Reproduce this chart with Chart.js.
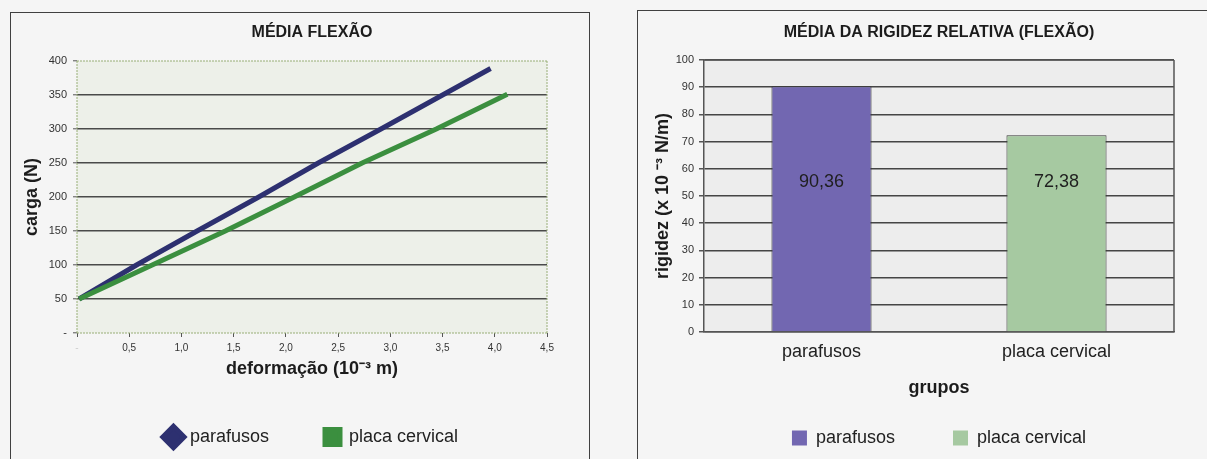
<!DOCTYPE html>
<html>
<head>
<meta charset="utf-8">
<script src="https://cdn.jsdelivr.net/npm/chart.js@4.4.1/dist/chart.umd.min.js"></script>
<style>
  html, body { margin: 0; padding: 0; background: #f5f5f5; }
  body { width: 1207px; height: 459px; position: relative; overflow: hidden; }
  .frame { position: absolute; border: 1.5px solid #404040; box-sizing: border-box; }
  #frameFlexao { left: 10px; top: 12px; width: 580px; height: 470px; }
  #frameRigidez { left: 637px; top: 10px; width: 600px; height: 470px; }
  .wrap { position: absolute; top: 0; height: 459px; }
  #wrapFlexao { left: 0; width: 600px; }
  #wrapRigidez { left: 600px; width: 607px; }
  canvas { display: block; }
</style>
</head>
<body>
<div class="frame" id="frameFlexao"></div>
<div class="frame" id="frameRigidez"></div>
<div class="wrap" id="wrapFlexao"><canvas id="chartFlexao" width="600" height="459"></canvas></div>
<div class="wrap" id="wrapRigidez"><canvas id="chartRigidez" width="607" height="459"></canvas></div>
<script>
// Load–deformation curves (deformação in 10^-3 m, carga in N)
const parafusosX = [0.02, 0.57, 1.15, 1.74, 2.31, 2.91, 3.50, 3.96];
const parafusosY = [50, 100, 150, 200, 250, 300, 350, 389];
const placaX = [0.02, 0.72, 1.42, 2.08, 2.73, 3.44, 4.12];
const placaY = [50, 100, 150, 200, 250, 300, 351];

const xTickLabels = ['-', '0,5', '1,0', '1,5', '2,0', '2,5', '3,0', '3,5', '4,0', '4,5'];
const yTickLabels = ['-', '50', '100', '150', '200', '250', '300', '350', '400'];

// Mean relative stiffness per group (x 10^-3 N/m)
const grupos = ['parafusos', 'placa cervical'];
const rigidez = [90.36, 72.38];
const rigidezTicks = ['0', '10', '20', '30', '40', '50', '60', '70', '80', '90', '100'];
const labelLevel = 55;

const FONT = '"Liberation Sans", Arial, Helvetica, sans-serif';
Chart.defaults.font.family = FONT;
Chart.defaults.color = '#2a2a2a';

const navy = '#2d3070';
const green = '#3b8f3f';
const barColors = ['#7267b1', '#a6c9a1'];

// Fills the plotting area and outlines the chosen edges of it
const plotFrame = {
  id: 'plotFrame',
  beforeDraw(chart, args, opts) {
    const { ctx, chartArea: a } = chart;
    ctx.save();
    ctx.fillStyle = opts.fill;
    ctx.fillRect(a.left, a.top, a.width, a.height);
    ctx.restore();
  },
  beforeDatasetsDraw(chart, args, opts) {
    const { ctx, chartArea: a } = chart;
    const edges = {
      top: [a.left, a.top, a.right, a.top],
      right: [a.right, a.top, a.right, a.bottom],
      bottom: [a.left, a.bottom, a.right, a.bottom],
      left: [a.left, a.top, a.left, a.bottom]
    };
    ctx.save();
    ctx.strokeStyle = opts.color;
    ctx.lineWidth = opts.width;
    ctx.setLineDash(opts.dash || []);
    (opts.sides || []).forEach(side => {
      const [x1, y1, x2, y2] = edges[side];
      ctx.beginPath();
      ctx.moveTo(x1, y1);
      ctx.lineTo(x2, y2);
      ctx.stroke();
    });
    ctx.restore();
  }
};

// Writes each bar's value inside the bar
const valueLabels = {
  id: 'valueLabels',
  afterDatasetsDraw(chart) {
    const { ctx } = chart;
    const meta = chart.getDatasetMeta(0);
    const y = chart.scales.y.getPixelForValue(labelLevel);
    ctx.save();
    ctx.font = '18px ' + FONT;
    ctx.fillStyle = '#1f1f1f';
    ctx.textAlign = 'center';
    ctx.textBaseline = 'middle';
    meta.data.forEach((bar, i) => {
      const v = chart.data.datasets[0].data[i];
      ctx.fillText(v.toFixed(2).replace('.', ','), bar.x, y);
    });
    ctx.restore();
  }
};

new Chart(document.getElementById('chartFlexao'), {
  type: 'line',
  data: {
    datasets: [
      {
        label: 'parafusos',
        data: parafusosX.map((x, i) => ({ x, y: parafusosY[i] })),
        borderColor: navy,
        backgroundColor: navy,
        borderWidth: 5,
        pointRadius: 0,
        pointStyle: 'rectRot',
        order: 1
      },
      {
        label: 'placa cervical',
        data: placaX.map((x, i) => ({ x, y: placaY[i] })),
        borderColor: green,
        backgroundColor: green,
        borderWidth: 5,
        pointRadius: 0,
        pointStyle: 'rect',
        order: 0
      }
    ]
  },
  options: {
    responsive: false,
    animation: false,
    layout: { padding: { top: 0, bottom: 3, left: 12, right: 53 } },
    plugins: {
      plotFrame: { fill: '#edf0e9', color: '#98ae76', width: 1, dash: [2, 1], sides: ['top', 'right', 'bottom', 'left'] },
      title: {
        display: true,
        text: 'MÉDIA FLEXÃO',
        fullSize: false,
        color: '#1c1c1c',
        font: { size: 16, weight: 'bold' },
        padding: { top: 23.4, bottom: 18.4 }
      },
      legend: {
        position: 'bottom',
        fullSize: false,
        labels: {
          usePointStyle: true,
          boxWidth: 15,
          boxHeight: 15,
          padding: 56,
          color: '#222',
          font: { size: 18 },
          sort: (a, b) => a.datasetIndex - b.datasetIndex
        }
      },
      tooltip: { enabled: false }
    },
    scales: {
      x: {
        type: 'linear',
        min: 0,
        max: 4.5,
        afterFit: s => { s.height = 39; },
        ticks: {
          stepSize: 0.5,
          padding: 5,
          font: { size: 10 },
          color: c => (c.index === 0 ? '#cfcfcf' : '#333'),
          callback: (v, i) => xTickLabels[i]
        },
        grid: { display: true, drawOnChartArea: false, drawTicks: true, tickLength: 4, tickColor: '#555', lineWidth: 1 },
        border: { display: false },
        title: {
          display: true,
          text: 'deformação (10⁻³ m)',
          color: '#1c1c1c',
          font: { size: 18, weight: 'bold' },
          padding: { top: 0, bottom: -8 }
        }
      },
      y: {
        min: 0,
        max: 400,
        afterFit: s => { s.width = 65; },
        ticks: {
          stepSize: 50,
          padding: 6,
          font: { size: 11 },
          color: '#333',
          callback: (v, i) => yTickLabels[i]
        },
        grid: {
          color: c => (c.tick && (c.tick.value === 0 || c.tick.value === 400) ? 'rgba(0,0,0,0)' : '#4a4a4a'),
          lineWidth: 1.6,
          tickLength: 4,
          tickColor: '#555',
          tickWidth: 1
        },
        border: { display: false },
        title: {
          display: true,
          text: 'carga (N)',
          color: '#1c1c1c',
          font: { size: 18, weight: 'bold' },
          padding: { top: 9.2, bottom: 0 }
        }
      }
    }
  },
  plugins: [plotFrame]
});

new Chart(document.getElementById('chartRigidez'), {
  type: 'bar',
  data: {
    labels: grupos,
    datasets: [{
      label: 'rigidez',
      data: rigidez,
      backgroundColor: barColors,
      borderColor: '#3a3a3a',
      borderWidth: 1,
      barPercentage: 0.426,
      categoryPercentage: 1
    }]
  },
  options: {
    responsive: false,
    animation: false,
    layout: { padding: { top: 0, bottom: 2, left: 40, right: 33 } },
    plugins: {
      plotFrame: { fill: '#ededed', color: '#555', width: 1.5, sides: ['top', 'right'] },
      title: {
        display: true,
        text: 'MÉDIA DA RIGIDEZ RELATIVA (FLEXÃO)',
        fullSize: false,
        color: '#1c1c1c',
        font: { size: 16, weight: 'bold' },
        padding: { top: 23.4, bottom: 17.4 }
      },
      legend: {
        position: 'bottom',
        fullSize: false,
        labels: {
          boxWidth: 15,
          boxHeight: 15,
          padding: 58,
          color: '#222',
          font: { size: 18 },
          generateLabels: () => grupos.map((g, i) => ({
            text: g,
            fillStyle: barColors[i],
            strokeStyle: barColors[i],
            lineWidth: 0,
            hidden: false,
            index: i,
            fontColor: '#222'
          }))
        }
      },
      tooltip: { enabled: false }
    },
    scales: {
      x: {
        afterFit: s => { s.height = 39; },
        ticks: { padding: 9.2, font: { size: 18 }, color: '#222' },
        grid: { display: false, drawTicks: false },
        border: { display: true, color: '#555', width: 1.5 },
        title: {
          display: true,
          text: 'grupos',
          color: '#1c1c1c',
          font: { size: 18, weight: 'bold' },
          padding: { top: 0, bottom: -27.8 }
        }
      },
      y: {
        min: 0,
        max: 100,
        afterFit: s => { s.width = 64; },
        ticks: {
          stepSize: 10,
          padding: 5,
          font: { size: 11 },
          color: '#333',
          callback: (v, i) => rigidezTicks[i]
        },
        grid: { color: '#454545', lineWidth: 1.5, tickLength: 5, tickColor: '#555' },
        border: { display: true, color: '#555', width: 1.5 },
        title: {
          display: true,
          text: 'rigidez (x 10 ⁻³ N/m)',
          color: '#1c1c1c',
          font: { size: 18, weight: 'bold' },
          padding: { top: 12.2, bottom: 0 }
        }
      }
    }
  },
  plugins: [plotFrame, valueLabels]
});
</script>
</body>
</html>
